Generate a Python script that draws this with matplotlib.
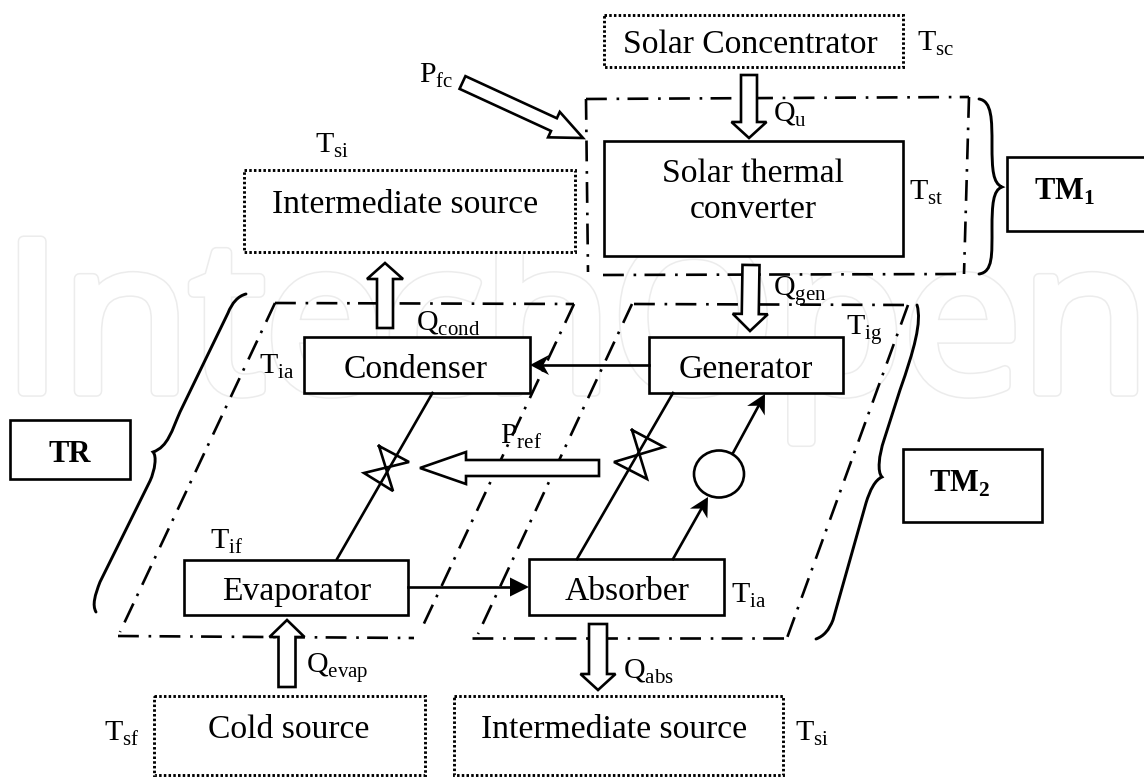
import matplotlib
matplotlib.use("Agg")
import matplotlib.patheffects as pe
import matplotlib.pyplot as plt
from matplotlib.patches import Ellipse, PathPatch, Polygon, Rectangle
from matplotlib.path import Path
import numpy as np

plt.rcParams['font.family'] = ['Liberation Serif', 'DejaVu Serif']
plt.rcParams['mathtext.fontset'] = 'custom'
plt.rcParams['mathtext.rm'] = 'Liberation Serif'
plt.rcParams['mathtext.bf'] = 'Liberation Serif:bold'
plt.rcParams['lines.scale_dashes'] = False
plt.rcParams['patch.force_edgecolor'] = True

WATERMARK = "IntechOpen"
SOURCES = ["Solar Concentrator", "Intermediate source", "Cold source", "Intermediate source"]
COMPONENTS = ["Condenser", "Generator", "Evaporator", "Absorber"]
CONVERTER_LINES = ["Solar thermal", "converter"]
MODULES = [r"TM$_{\mathbf{1}}$", r"TM$_{\mathbf{2}}$", "TR"]
TEMPERATURES = ["sc", "st", "si", "ia", "ig", "if", "ia", "sf", "si"]
HEATS = ["u", "gen", "cond", "evap", "abs"]
POWERS = ["fc", "ref"]

LW_BOX = 1.9
LW_LINE = 1.9
DASHDOT = (0, (15, 7, 1.9, 6))
DOTTED = (0, (1.8, 1.6))


def sub(letter, s):
    return letter + r"$_{\mathrm{" + s + "}}$"


def box(ax, x0, y0, x1, y1, dotted=False, clip=True):
    ax.add_patch(Rectangle((x0, y0), x1 - x0, y1 - y0, fc='white', ec='black',
                           lw=2.1 if dotted else LW_BOX,
                           ls=DOTTED if dotted else '-', zorder=3, clip_on=clip))


def dash(ax, *pts):
    xs, ys = zip(*pts)
    ax.plot(xs, ys, color='black', lw=1.9, ls=DASHDOT, zorder=2, dash_capstyle='butt')


def block_arrow(ax, tail, tip, shaft_w, head_w, head_len):
    tail, tip = np.array(tail, float), np.array(tip, float)
    d = (tip - tail) / np.linalg.norm(tip - tail)
    n = np.array([-d[1], d[0]])
    base = tip - d * head_len
    pts = [tail + n * shaft_w / 2, base + n * shaft_w / 2, base + n * head_w / 2, tip,
           base - n * head_w / 2, base - n * shaft_w / 2, tail - n * shaft_w / 2]
    ax.add_patch(Polygon(pts, closed=True, fc='white', ec='black', lw=LW_BOX,
                         joinstyle='miter', zorder=5))


def thin_arrow(ax, start, end, length=19, width=19, notch=0.0):
    start, end = np.array(start, float), np.array(end, float)
    d = (end - start) / np.linalg.norm(end - start)
    n = np.array([-d[1], d[0]])
    base = end - d * length
    ax.plot([start[0], base[0] + d[0] * length * notch], [start[1], base[1] + d[1] * length * notch],
            color='black', lw=LW_LINE, zorder=4)
    pts = [end, base + n * width / 2, base + d * length * notch, base - n * width / 2]
    ax.add_patch(Polygon(pts, closed=True, fc='black', ec='none', zorder=4))


def valve(ax, top, right, left, bottom):
    pts = [top, right, left, bottom, top]
    xs, ys = zip(*pts)
    ax.plot(xs, ys, color='black', lw=LW_LINE, zorder=4, solid_joinstyle='miter')


def brace(ax, verts, codes):
    ax.add_patch(PathPatch(Path(verts, codes), fc='none', ec='black', lw=2.1, zorder=2,
                           capstyle='round'))


fig = plt.figure(figsize=(11.44, 7.77), dpi=100)
ax = fig.add_axes([0, 0, 1, 1])
ax.set_xlim(0, 1144)
ax.set_ylim(777, 0)
ax.axis('off')

# faint watermark behind everything, strokes fatten the letters and leave an outline
ax.text(3, 391, WATERMARK, family='Open Sans', fontsize=151, color='white', va='baseline', ha='left',
        zorder=0, path_effects=[pe.withStroke(linewidth=8.4, foreground='#ececec'),
                                pe.withStroke(linewidth=6.2, foreground='white')])

# dash-dot module outlines
dash(ax, (586, 99), (969, 97))
dash(ax, (586, 99), (588, 272))
dash(ax, (969, 97), (964, 274))
dash(ax, (603, 275), (964, 274))
dash(ax, (275, 303), (574, 304))
dash(ax, (275, 303), (120, 632))
dash(ax, (574, 304), (420, 632))
dash(ax, (118, 636), (414, 638))
dash(ax, (634, 304), (908, 305))
dash(ax, (632, 304), (478, 634))
dash(ax, (908, 305), (787, 638))
dash(ax, (472, 638), (787, 638))

# braces
C4, MV, LN = Path.CURVE4, Path.MOVETO, Path.LINETO
brace(ax, [(979, 99), (992, 101), (992, 120), (992, 145),
           (992, 170), (993, 183), (1002, 187),
           (993, 190), (992, 205), (992, 228),
           (992, 255), (993, 272), (979, 274)],
      [MV] + [C4] * 12)
brace(ax, [(246, 294), (238, 296), (232, 303), (228, 313), (180, 412),
           (172, 430), (168, 447), (153, 452),
           (157, 456), (155, 470), (150, 481), (100, 582),
           (95, 595), (92, 605), (96, 612)],
      [MV, C4, C4, C4, LN, C4, C4, C4, C4, C4, C4, LN, C4, C4, C4])
brace(ax, [(917, 305), (922, 322), (914, 350), (900, 390), (884, 440),
           (879, 455), (877, 472), (882, 477),
           (875, 480), (870, 490), (866, 503), (833, 620),
           (829, 630), (824, 636), (816, 639)],
      [MV, C4, C4, C4, LN, C4, C4, C4, C4, C4, C4, LN, C4, C4, C4])

# sources (dotted)
box(ax, 604, 15, 903, 67, dotted=True)
box(ax, 244, 170, 575, 252, dotted=True)
box(ax, 154, 696, 425, 775, dotted=True)
box(ax, 454, 696, 783, 775, dotted=True)
for (x, y), s in zip([(750, 53), (405, 213), (289, 738), (614, 738)], SOURCES):
    ax.text(x, y, s, fontsize=24.2, ha='center', va='baseline', zorder=6)

# cycle pipes
ax.plot([432.5, 337], [393, 559], color='black', lw=LW_LINE, zorder=4)
ax.plot([673, 577], [393, 559], color='black', lw=LW_LINE, zorder=4)
valve(ax, (379, 446), (409, 462), (364, 473), (393, 491))
valve(ax, (632, 430), (664, 447), (614, 462), (647, 479))
thin_arrow(ax, (649, 365), (530, 365), length=19, width=20, notch=0.3)
thin_arrow(ax, (408, 587), (529, 587), length=19, width=19)
thin_arrow(ax, (673, 559), (708, 497), length=19, width=20, notch=0.3)
thin_arrow(ax, (733, 453), (765, 394), length=19, width=20, notch=0.3)
ax.add_patch(Ellipse((719, 474), 50, 47, fc='white', ec='black', lw=LW_BOX, zorder=4))

# heat and power arrows
block_arrow(ax, (749, 75), (749, 138), 16, 35, 16)
block_arrow(ax, (751, 265), (750, 331), 17, 35, 17)
block_arrow(ax, (385, 328), (385, 263), 16, 36, 16)
block_arrow(ax, (287, 687), (287, 620), 17, 35, 17)
block_arrow(ax, (598, 624), (598, 690), 18, 35, 16)
block_arrow(ax, (462.5, 82.5), (583, 138), 14, 28, 32)
block_arrow(ax, (599, 468), (420, 468), 16, 32, 46)

# components
box(ax, 604, 141, 903, 256)
box(ax, 304, 337, 530, 393)
box(ax, 649, 337, 843, 393)
box(ax, 184, 560, 408, 615)
box(ax, 529, 559, 724, 615)
for (x, y), s in zip([(416, 378), (746, 378), (297, 600), (627, 600)], COMPONENTS):
    ax.text(x, y, s, fontsize=24.2, ha='center', va='baseline', zorder=6)
for y, s in zip([182, 218], CONVERTER_LINES):
    ax.text(753, y, s, fontsize=24.2, ha='center', va='baseline', zorder=6)

# module name boxes, TM1 runs off the right edge
box(ax, 1007, 157, 1160, 231)
box(ax, 903, 449, 1042, 522)
box(ax, 10, 420, 130, 479)
for (x, y), s in zip([(1065, 200), (960, 492), (70, 462)], MODULES):
    ax.text(x, y, s, fontsize=22, fontweight='bold', ha='center', va='baseline', zorder=6)

# symbols
for (x, y), s in zip([(917, 51), (909, 200), (315, 153), (259, 374), (846, 335),
                      (210, 549), (731, 603), (104, 741), (795, 741)], TEMPERATURES):
    t = ax.text(x, y, sub("T", s), fontsize=21.5, va='baseline', zorder=6)
    if s == "ig":
        t.set_clip_path(Rectangle((840, 300), 60, 39, transform=ax.transData))
for (x, y), s in zip([(773, 122), (773, 296), (416, 331), (306, 673), (623, 679)], HEATS):
    ax.text(x, y, sub("Q", s), fontsize=21.5, va='baseline', zorder=6)
for (x, y), s in zip([(419, 83), (500, 444)], POWERS):
    ax.text(x, y, sub("P", s), fontsize=21.5, va='baseline', zorder=6)

fig.savefig("out.png", dpi=100)
